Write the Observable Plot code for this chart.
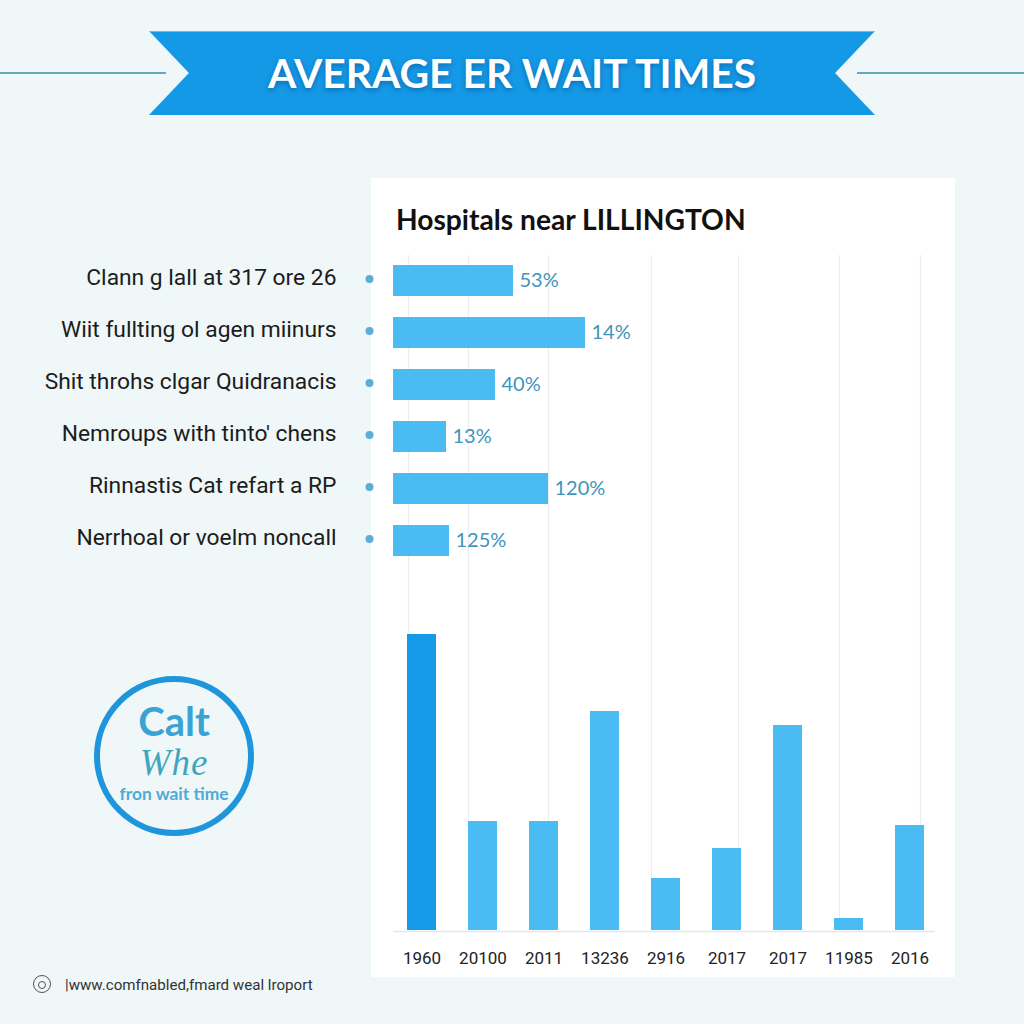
<!DOCTYPE html>
<html>
<head>
<meta charset="utf-8">
<script src="https://cdn.jsdelivr.net/npm/d3@7"></script>
<script src="https://cdn.jsdelivr.net/npm/@observablehq/plot@0.6"></script>
<style>
  html, body { margin: 0; padding: 0; background: #eff7f8; }
  #page { position: relative; width: 1024px; height: 1024px; overflow: hidden; background: #eff7f8; font-family: Lato, sans-serif; }
  #page > * { position: absolute; }
  #page svg { background: transparent; }
  .rule { height: 2px; top: 72px; background: #6ba6bf; }
  #banner { left: 149px; top: 31px; width: 726px; height: 84px; background: #1499e6; box-shadow: inset 0 1px #63c1f0;
            clip-path: polygon(0 0, 100% 0, 94.5% 50%, 100% 100%, 0 100%, 5.5% 50%); }
  #title { left: 149px; top: 47px; width: 726px; text-align: center; color: #fff; font: 700 40.8px/52px Lato, sans-serif;
           text-shadow: 0 2px 5px rgba(0,50,120,.45); }
  #card { left: 371px; top: 178px; width: 584px; height: 799px; background: #fff; }
  #heading { left: 396px; top: 202px; font: 700 28.2px/34px Lato, sans-serif; color: #111; white-space: nowrap; }
  #ring { left: 94px; top: 676px; width: 148px; height: 148px; border: 6px solid #1f96dc; border-radius: 50%; }
  .badge { left: 94px; width: 160px; text-align: center; white-space: nowrap; }
  #b1 { top: 700px; font: 700 40px/42px Lato, sans-serif; color: #3aa3d6; }
  #b2 { top: 743px; font: italic 400 37px/40px "Liberation Serif", serif; letter-spacing: 1px; color: #3fa6bd; }
  #b3 { top: 784px; font: 700 17.4px/20px Lato, sans-serif; color: #4eaad6; }
  #icon { left: 33px; top: 975px; width: 16px; height: 16px; border: 1.5px solid #555; border-radius: 50%; }
  #icon::after { content: ""; position: absolute; left: 4px; top: 5px; width: 6px; height: 6px; border: 1px solid #555; border-radius: 50%; }
  #foot { left: 65px; top: 975px; font: 400 15.1px/20px Roboto, sans-serif; color: #333; white-space: nowrap; }
</style>
</head>
<body>
<div id="page">
  <div class="rule" style="left:0;width:166px"></div>
  <div class="rule" style="left:857px;width:167px"></div>
  <div id="banner"></div>
  <div id="title">AVERAGE ER WAIT TIMES</div>
  <div id="card"></div>
  <div id="heading">Hospitals near LILLINGTON</div>
  <div id="ring"></div>
  <div class="badge" id="b1">Calt</div>
  <div class="badge" id="b2">Whe</div>
  <div class="badge" id="b3">fron wait time</div>
  <div id="icon"></div>
  <div id="foot">|www.comfnabled,fmard weal lroport</div>
</div>
<script>
const rowLabels = [
  "Clann g lall at 317 ore 26",
  "Wiit fullting ol agen miinurs",
  "Shit throhs clgar Quidranacis",
  "Nemroups with tinto' chens",
  "Rinnastis Cat refart a RP",
  "Nerrhoal or voelm noncall"
];
const rowLengths = [120, 192, 102, 53, 155, 56];
const rowValueLabels = ["53%", "14%", "40%", "13%", "120%", "125%"];
const gridValues = [15, 75, 155, 258, 345, 446, 527];

const yearLabels = ["1960", "20100", "2011", "13236", "2916", "2017", "2017", "11985", "2016"];
const columnValues = [296, 109, 109, 219, 52, 82, 205, 12, 105];
const columnColors = ["#149ae6", "#4bbbf4", "#4bbbf4", "#4bbbf4", "#4bbbf4", "#4bbbf4", "#4bbbf4", "#4bbbf4", "#4bbbf4"];

const rows = rowLabels.map((label, i) => ({label, length: rowLengths[i], value: rowValueLabels[i]}));
const columns = yearLabels.map((year, i) => ({i, year, value: columnValues[i], color: columnColors[i]}));

const topChart = Plot.plot({
  width: 1024, height: 1024,
  marginLeft: 393, marginRight: 0, marginTop: 255, marginBottom: 94,
  style: {background: "transparent"},
  x: {domain: [0, 631], axis: null},
  y: {domain: rowLabels, range: [254.5, 567.2], paddingInner: 0.406, paddingOuter: 0.203, axis: null},
  marks: [
    Plot.ruleX(gridValues, {stroke: "#e9edef", strokeWidth: 1.2}),
    Plot.barX(rows, {x: "length", y: "label", fill: "#4bbbf4"}),
    Plot.text(rows, {x: "length", y: "label", text: "value", textAnchor: "start", dx: 6, fill: "#3f95ba", fontSize: 20, fontFamily: "Lato, sans-serif"}),
    Plot.dot(rows, {x: () => 0, y: "label", r: 4, dx: -24, dy: -2, fill: "#5aaed8"}),
    Plot.text(rows, {x: () => 0, y: "label", text: "label", textAnchor: "end", dx: -57, dy: -3.5, fill: "#1c1c1c", fontSize: 22.8, fontFamily: "Roboto, sans-serif"})
  ]
});

const bottomChart = Plot.plot({
  width: 1024, height: 1024,
  marginLeft: 393, marginRight: 89, marginTop: 634, marginBottom: 94,
  style: {background: "transparent"},
  x: {domain: columns.map(d => d.i), range: [390.45, 940.55], paddingInner: 0.525, paddingOuter: 0.2625, axis: null},
  y: {domain: [0, 296], axis: null},
  marks: [
    Plot.barY(columns, {x: "i", y: "value", fill: "color"}),
    Plot.ruleY([0], {stroke: "#e3e8ea", strokeWidth: 1.5, dy: 1}),
    Plot.axisX({domain: columns.map(d => d.i), tickSize: 0, tickPadding: 21, tickFormat: i => yearLabels[i], fontSize: 17, fontFamily: "Roboto, sans-serif", color: "#222", label: null})
  ]
});

const page = document.getElementById("page");
const heading = document.getElementById("heading");
for (const chart of [topChart, bottomChart]) {
  chart.style.left = "0";
  chart.style.top = "0";
  page.insertBefore(chart, heading);
}
</script>
</body>
</html>
